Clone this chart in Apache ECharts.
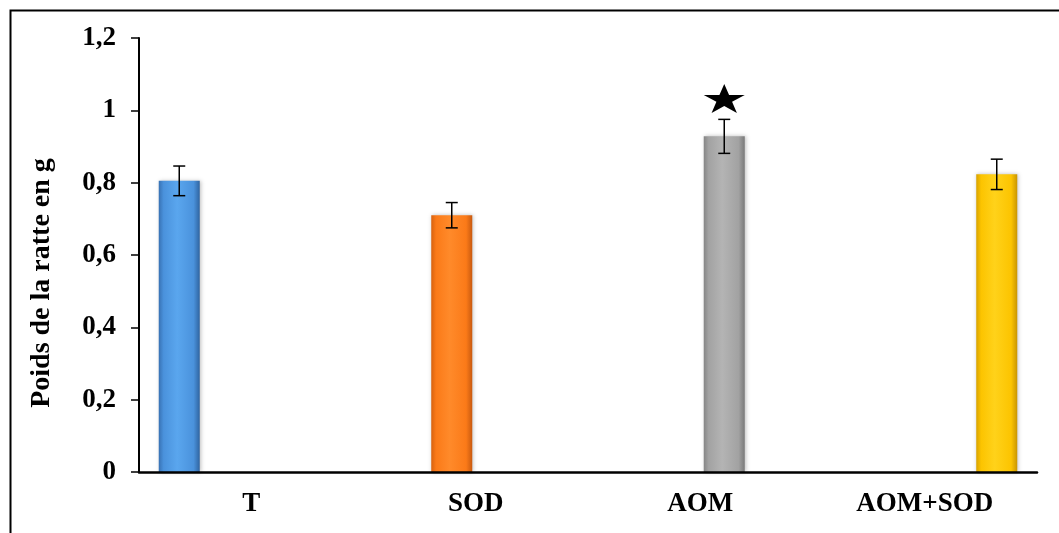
<!DOCTYPE html>
<html>
<head>
<meta charset="utf-8">
<script src="https://cdn.jsdelivr.net/npm/echarts@6/dist/echarts.min.js"></script>
<style>html,body{margin:0;padding:0;background:#fff}#c{width:1059px;height:533px}</style>
</head>
<body>
<div id="c"></div>
<script>
var categories = ['T', 'SOD', 'AOM', 'AOM+SOD'];
var values = [0.805, 0.71, 0.928, 0.823];
var errors = [0.041, 0.035, 0.047, 0.042];
var significance = ['', '', '★', ''];
var yTitle = 'Poids de la ratte en g';
var yTicks = { min: 0, max: 1.2, interval: 0.2 };

var colorSets = [
  ['#3872b4', '#5aa6ee', '#4a92dc', '#2f64a0'],
  ['#d8620f', '#ff8a2a', '#fb7a18', '#c85a10'],
  ['#858585', '#b4b4b4', '#a2a2a2', '#7a7a7a'],
  ['#d9a300', '#ffd21a', '#fcc400', '#c99500']
];
function grad(c) {
  return new echarts.graphic.LinearGradient(0, 0, 1, 0, [
    { offset: 0, color: c[0] }, { offset: 0.12, color: c[2] },
    { offset: 0.45, color: c[1] }, { offset: 0.85, color: c[2] },
    { offset: 1, color: c[3] }
  ]);
}

var BAR_W = 41, BAR_GAP = 7;
var font = '"Liberation Serif", "Times New Roman", serif';

var series = categories.map(function (name, i) {
  return {
    name: name,
    type: 'bar',
    barWidth: BAR_W,
    barGap: (BAR_GAP / BAR_W * 100) + '%',
    data: categories.map(function (_, j) { return j === i ? values[i] : 0; }),
    itemStyle: { color: grad(colorSets[i]), shadowColor: 'rgba(0,0,0,0.25)', shadowBlur: 4, shadowOffsetX: 1 },
    z: 2
  };
});

series.push({
  type: 'custom',
  z: 5,
  data: values.map(function (v, i) { return [i, v, errors[i]]; }),
  renderItem: function (params, api) {
    var idx = api.value(0), v = api.value(1), e = api.value(2);
    var off = (idx - (categories.length - 1) / 2) * (BAR_W + BAR_GAP);
    var top = api.coord([idx, v + e]);
    var bot = api.coord([idx, v - e]);
    var x = top[0] + off;
    var cap = 6;
    var st = { stroke: '#000', lineWidth: 1.5 };
    var children = [
      { type: 'line', shape: { x1: x, y1: top[1], x2: x, y2: bot[1] }, style: st },
      { type: 'line', shape: { x1: x - cap, y1: top[1], x2: x + cap, y2: top[1] }, style: st },
      { type: 'line', shape: { x1: x - cap, y1: bot[1], x2: x + cap, y2: bot[1] }, style: st }
    ];
    if (significance[idx]) {
      var cx = x, cy = top[1] - 21, R = 16, rI = R * 0.382, pts = [];
      var sx = 41 / (2 * R * Math.sin(72 * Math.PI / 180));
      var sy = 29 / (R * (1 + Math.cos(36 * Math.PI / 180)));
      for (var k = 0; k < 10; k++) {
        var r = k % 2 === 0 ? R : rI;
        var a = -Math.PI / 2 + k * Math.PI / 5;
        pts.push([cx + r * Math.cos(a) * sx, cy + (r * Math.sin(a) + R * (1 - Math.cos(36 * Math.PI / 180)) / 2) * sy]);
      }
      children.push({ type: 'polygon', shape: { points: pts }, style: { fill: '#000' } });
    }
    return { type: 'group', children: children };
  }
});

var chart = echarts.init(document.getElementById('c'));
chart.setOption({
  animation: false,
  backgroundColor: '#fff',
  grid: { left: 139, top: 38, right: 22, bottom: 61, containLabel: false },
  graphic: [{
    type: 'rect', left: 8, top: 8, z: 100, silent: true,
    shape: { x: 0, y: 0, width: 1060, height: 540 },
    style: { fill: 'none', stroke: '#000', lineWidth: 2 }
  }, {
    type: 'text', x: 42, y: 283, rotation: Math.PI / 2, z: 100, silent: true,
    style: {
      text: yTitle, fill: '#000', font: 'bold 28px ' + font,
      align: 'center', verticalAlign: 'middle'
    }
  }],
  xAxis: {
    type: 'category',
    data: categories,
    axisLine: { lineStyle: { color: '#000', width: 2.5 } },
    axisTick: { show: false },
    axisLabel: { color: '#000', fontFamily: font, fontWeight: 'bold', fontSize: 27, margin: 19 },
    z: 10
  },
  yAxis: {
    type: 'value',
    min: yTicks.min, max: yTicks.max, interval: yTicks.interval,
    axisLine: { show: true, lineStyle: { color: '#000', width: 2 } },
    axisTick: { show: true, length: 8, lineStyle: { color: '#000', width: 1.5 } },
    splitLine: { show: false },
    axisLabel: {
      color: '#000', fontFamily: font, fontWeight: 'bold', fontSize: 27, margin: 23,
      formatter: function (v) { return String(Math.round(v * 10) / 10).replace('.', ','); }
    }
  },
  series: series
});
</script>
</body>
</html>
